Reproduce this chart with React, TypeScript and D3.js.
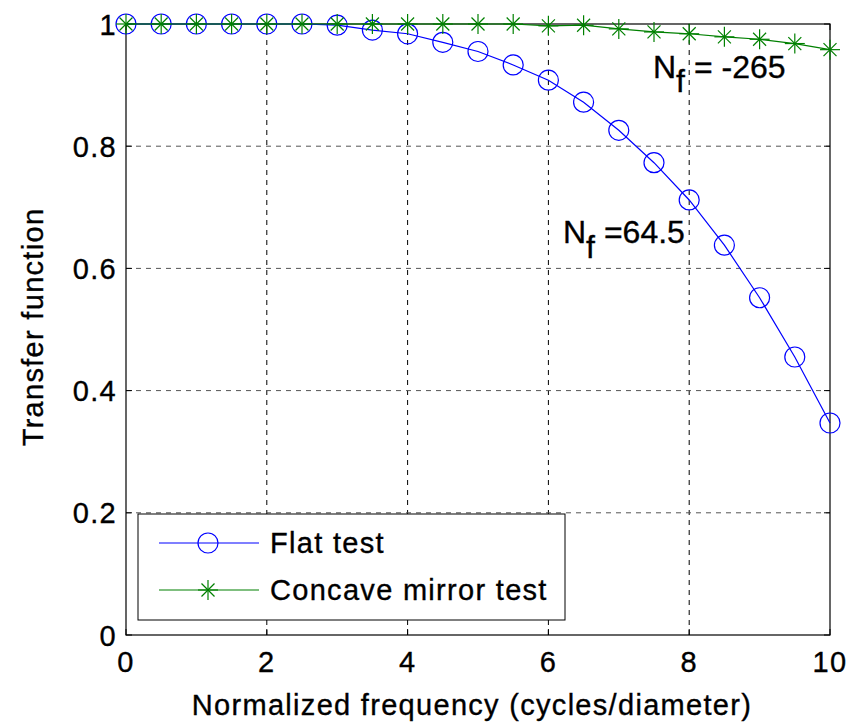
import React from "react";
import * as d3 from "d3";

const freq = [0, 0.5, 1, 1.5, 2, 2.5, 3, 3.5, 4, 4.5, 5, 5.5, 6, 6.5, 7, 7.5, 8, 8.5, 9, 9.5, 10];
const flatTest = [1, 1, 1, 1, 1, 1, 0.998, 0.99, 0.984, 0.97, 0.955, 0.933, 0.908, 0.872, 0.826, 0.773, 0.712, 0.638, 0.552, 0.455, 0.347];
const concaveTest = [1, 1, 1, 1, 1, 1, 1, 1, 1, 1, 1, 1, 0.997, 0.998, 0.992, 0.987, 0.984, 0.979, 0.975, 0.968, 0.958];
const xTicks = [0, 2, 4, 6, 8, 10];
const yTicks = [0, 0.2, 0.4, 0.6, 0.8, 1];
const seriesNames = ["Flat test", "Concave mirror test"];
const xLabel = "Normalized frequency (cycles/diameter)";
const yLabel = "Transfer function";

const W = 852, H = 724;
const FONT = "'Liberation Sans', Arial, Helvetica, sans-serif";

export default function App() {
  const x = d3.scaleLinear().domain([0, 10]).range([126, 830]);
  const y = d3.scaleLinear().domain([0, 1]).range([635, 24]);
  const line = d3.line<number>().x((_, i) => x(freq[i])).y((d) => y(d));
  const [x0, x1] = x.range();
  const [y0, y1] = y.range();
  const tick = 6;
  const star = (cx: number, cy: number, key: string, color: string) => (
    <g key={key} stroke={color} strokeWidth={1.2}>
      <line x1={cx} y1={cy - 10} x2={cx} y2={cy + 10} />
      <line x1={cx - 10} y1={cy} x2={cx + 10} y2={cy} />
      <line x1={cx - 6.5} y1={cy - 6.5} x2={cx + 6.5} y2={cy + 6.5} />
      <line x1={cx - 6.5} y1={cy + 6.5} x2={cx + 6.5} y2={cy - 6.5} />
    </g>
  );
  const txt = { fontFamily: FONT, fontSize: 29, letterSpacing: 1.3, fill: "#000", stroke: "#000", strokeWidth: 0.35 } as const;
  const ann = { fontFamily: FONT, fontSize: 32, fill: "#000", stroke: "#000", strokeWidth: 0.35 } as const;
  return (
    <svg width={W} height={H} style={{ position: "absolute", left: 0, top: 0, background: "#fff" }}>
      <rect x={0} y={0} width={W} height={H} fill="#fff" />
      {/* grid */}
      {xTicks.slice(1, -1).map((t) => (
        <line key={"gx" + t} x1={x(t)} x2={x(t)} y1={y0} y2={y1} stroke="#000" strokeWidth={1} strokeDasharray="5,5" />
      ))}
      {yTicks.slice(1, -1).map((t) => (
        <line key={"gy" + t} x1={x0} x2={x1} y1={y(t)} y2={y(t)} stroke="#555" strokeWidth={1} strokeDasharray="5,5" />
      ))}
      {/* ticks */}
      {xTicks.map((t) => (
        <g key={"tx" + t} stroke="#000">
          <line x1={x(t)} x2={x(t)} y1={y0} y2={y0 - tick} />
          <line x1={x(t)} x2={x(t)} y1={y1} y2={y1 + tick} />
        </g>
      ))}
      {yTicks.map((t) => (
        <g key={"ty" + t} stroke="#000">
          <line x1={x0} x2={x0 + tick} y1={y(t)} y2={y(t)} />
          <line x1={x1} x2={x1 - tick} y1={y(t)} y2={y(t)} />
        </g>
      ))}
      <rect x={x0} y={y1} width={x1 - x0} height={y0 - y1} fill="none" stroke="#000" strokeWidth={1.2} />
      {/* tick labels */}
      {xTicks.map((t) => (
        <text key={"lx" + t} x={x(t)} y={672} textAnchor="middle" style={txt}>{d3.format("~g")(t)}</text>
      ))}
      {yTicks.map((t) => (
        <text key={"ly" + t} x={117} y={y(t) + 10.5} textAnchor="end" style={txt}>{d3.format("~g")(t)}</text>
      ))}
      <text x={(x0 + x1) / 2 - 6} y={715} textAnchor="middle" style={txt}>{xLabel}</text>
      <text transform={`translate(43,327) rotate(-90)`} textAnchor="middle" style={txt}>{yLabel}</text>
      {/* series */}
      <path d={line(flatTest) || ""} fill="none" stroke="#0000ff" strokeWidth={1.2} />
      {flatTest.map((v, i) => (
        <circle key={"c" + i} cx={x(freq[i])} cy={y(v)} r={10} fill="none" stroke="#0000ff" strokeWidth={1.2} />
      ))}
      <path d={line(concaveTest) || ""} fill="none" stroke="#008000" strokeWidth={1.2} />
      {concaveTest.map((v, i) => star(x(freq[i]), y(v), "s" + i, "#008000"))}
      {/* annotations */}
      <text x={653} y={78} style={ann}>
        N<tspan dy={14}>f</tspan><tspan dy={-14}> = -265</tspan>
      </text>
      <text x={563} y={243} style={ann}>
        N<tspan dy={15}>f</tspan><tspan dy={-15}> =64.5</tspan>
      </text>
      {/* legend */}
      <rect x={138} y={514} width={427} height={106} fill="#fff" stroke="#000" strokeWidth={1} />
      <line x1={159} x2={259} y1={543} y2={543} stroke="#0000ff" strokeWidth={1.2} />
      <circle cx={208} cy={543} r={10} fill="none" stroke="#0000ff" strokeWidth={1.2} />
      <text x={270} y={553} style={txt}>{seriesNames[0]}</text>
      <line x1={159} x2={259} y1={590} y2={590} stroke="#008000" strokeWidth={1.2} />
      {star(208, 590, "legstar", "#008000")}
      <text x={270} y={600} style={txt}>{seriesNames[1]}</text>
    </svg>
  );
}
